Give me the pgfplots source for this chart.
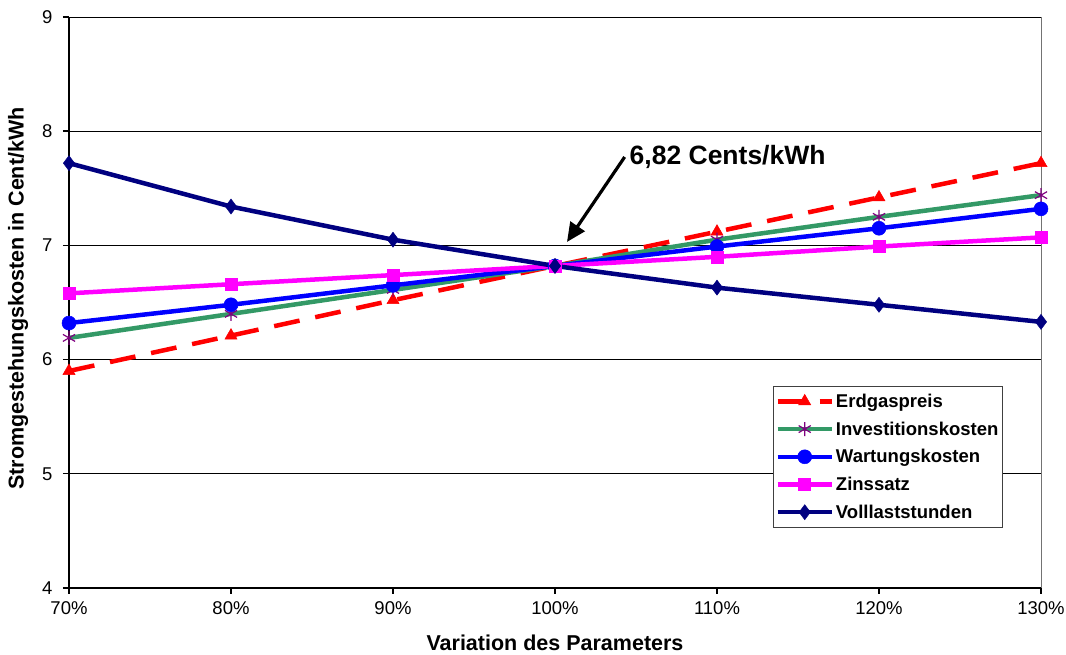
\documentclass[border=0pt]{standalone}
\usepackage{pgfplots}
\pgfplotsset{compat=1.18}
\usepackage{fontspec}
\setmainfont{Liberation Sans}
\usetikzlibrary{arrows.meta}
\definecolor{cgreen}{RGB}{51,153,102}
\definecolor{cnavy}{RGB}{0,0,128}
\definecolor{cpurple}{RGB}{128,0,128}
\definecolor{cmag}{RGB}{255,0,255}
\definecolor{cred}{RGB}{255,0,0}
\definecolor{cblue}{RGB}{0,0,255}
\begin{document}
\begin{tikzpicture}
\begin{axis}[
  at={(0,0)}, anchor=south west,
  scale only axis, width=972pt, height=571pt,
  xmin=70, xmax=130, ymin=4, ymax=9,
  xtick={70,80,90,100,110,120,130},
  xticklabels={70\%,80\%,90\%,100\%,110\%,120\%,130\%},
  ytick={4,5,6,7,8,9},
  /pgf/number format/assume math mode=true,
  ticklabel style={font=\fontsize{18.5}{22}\selectfont},
  axis x line*=bottom, axis y line*=left,
  axis line style={line width=2.2pt, black, -},
  ymajorgrids, grid style={black, line width=0.7pt},
  major tick length=6pt,
  xtick style={black, line width=1.6pt},
  ytick style={black, line width=1.4pt},
  tick align=outside,
  xticklabel style={yshift=-4pt},
  yticklabel style={xshift=-7pt},
  xlabel={\bfseries Variation des Parameters},
  ylabel={\bfseries Stromgestehungskosten in Cent/kWh},
  label style={font=\fontsize{21.5}{25}\selectfont},
  xlabel style={at={(axis description cs:0.5,0)}, anchor=center, yshift=-55pt},
  ylabel style={at={(axis description cs:0,0.5)}, anchor=center, xshift=4pt, yshift=51pt},
  clip=false,
  legend style={at={(0.7243,0.3538)}, anchor=north west, draw=black!75, line width=0.9pt,
    font=\fontsize{18.5}{22}\selectfont\bfseries, row sep=8.8pt, inner xsep=2pt, inner ysep=5.5pt,
    /tikz/every even column/.append style={column sep=0pt}},
  legend cell align=left,
  legend image code/.code={\draw[mark repeat=2,mark phase=2] plot coordinates {(0pt,0pt) (27pt,0pt) (54pt,0pt)};},
]
\addplot[cred, line width=4.5pt, dash pattern=on 26pt off 16pt, mark=triangle*, mark size=7pt, mark options={solid, fill=cred, line width=0.5pt}]
 coordinates {(70,5.90) (80,6.21) (90,6.52) (100,6.82) (110,7.12) (120,7.42) (130,7.72)};
\addlegendentry{Erdgaspreis}
\addplot[cgreen, line width=4.5pt, mark=asterisk, mark size=7pt, mark options={cpurple, line width=1.2pt}]
 coordinates {(70,6.19) (80,6.40) (90,6.61) (100,6.82) (110,7.05) (120,7.25) (130,7.44)};
\addlegendentry{Investitionskosten}
\addplot[cblue, line width=4.5pt, mark=*, mark size=7pt, mark options={fill=cblue, line width=0.5pt}]
 coordinates {(70,6.32) (80,6.48) (90,6.65) (100,6.82) (110,6.99) (120,7.15) (130,7.32)};
\addlegendentry{Wartungskosten}
\addplot[cmag, line width=4.5pt, mark=square*, mark size=6pt, mark options={fill=cmag, line width=0.5pt}]
 coordinates {(70,6.58) (80,6.66) (90,6.74) (100,6.82) (110,6.90) (120,6.99) (130,7.07)};
\addlegendentry{Zinssatz}
\addplot[cnavy, line width=4.5pt, mark=diamond*, mark size=7.5pt, mark options={fill=cnavy, line width=0.5pt}]
 coordinates {(70,7.72) (80,7.34) (90,7.05) (100,6.82) (110,6.63) (120,6.48) (130,6.33)};
\addlegendentry{Volllaststunden}
\draw[black!55, line width=1pt] (axis cs:130,4) -- (axis cs:130,9);
\draw[black, line width=3.2pt, -{Triangle[length=19pt,width=17pt]}] (axis cs:104.3,7.774) -- (axis cs:100.74,7.03);
\node[anchor=west, font=\fontsize{26.5}{30}\selectfont\bfseries, inner sep=0pt] at (axis cs:104.6,7.774) {6,82 Cents/kWh};
\end{axis}
\pgfresetboundingbox
\path[use as bounding box] (-69pt,-67pt) rectangle (997pt,588pt);
\end{tikzpicture}
\end{document}
